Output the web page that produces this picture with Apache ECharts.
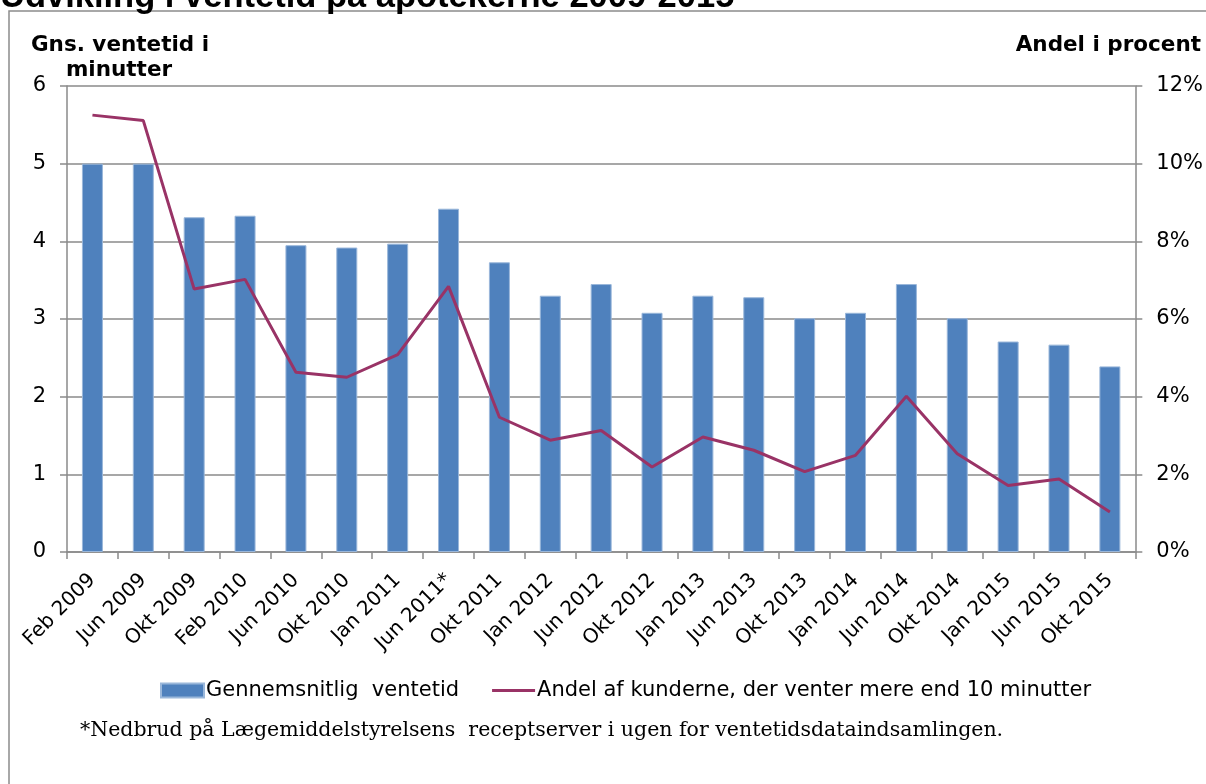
<!DOCTYPE html>
<html>
<head>
<meta charset="utf-8">
<script src="https://cdn.jsdelivr.net/npm/echarts@6/dist/echarts.min.js"></script>
<style>
html,body{margin:0;padding:0;background:#fff;}
#chart{width:1206px;height:784px;}
</style>
</head>
<body>
<div id="chart"></div>
<script>
const categories = ['Feb 2009','Jun 2009','Okt 2009','Feb 2010','Jun 2010','Okt 2010','Jan 2011','Jun 2011*','Okt 2011','Jan 2012','Jun 2012','Okt 2012','Jan 2013','Jun 2013','Okt 2013','Jan 2014','Jun 2014','Okt 2014','Jan 2015','Jun 2015','Okt 2015'];
const ventetid = [5.0,5.0,4.31,4.33,3.95,3.92,3.97,4.42,3.73,3.30,3.45,3.08,3.30,3.28,3.01,3.08,3.45,3.01,2.71,2.67,2.39];
const andelProcent = [11.25,11.11,6.77,7.02,4.63,4.50,5.08,6.84,3.47,2.88,3.13,2.19,2.96,2.62,2.07,2.49,4.01,2.53,1.71,1.88,1.03];
const leftTicks = {min:0, max:6, interval:1};
const rightTicks = {min:0, max:12, interval:2};
const titleText = 'Udvikling i ventetid på apotekerne 2009-2015';
const leftAxisName = 'Gns. ventetid i';
const leftAxisName2 = 'minutter';
const rightAxisName = 'Andel i procent';
const seriesNames = ['Gennemsnitlig  ventetid','Andel af kunderne, der venter mere end 10 minutter'];
const footnote = '*Nedbrud på Lægemiddelstyrelsens  receptserver i ugen for ventetidsdataindsamlingen.';

const chart = echarts.init(document.getElementById('chart'), null, {renderer:'canvas'});
const axisGray = '#8a8a8a';
const labelFont = 'DejaVu Sans';

chart.setOption({
  animation:false,
  backgroundColor:'#fff',
  grid:{left:67, right:70, top:86, bottom:232},
  legend:{
    left:155, top:675,
    itemWidth:43, itemHeight:14, itemGap:33,
    textStyle:{fontFamily:'DejaVu Sans', fontSize:21, color:'#000', padding:[0,0,0,-3]},
    data:[{name:seriesNames[0], icon:'rect'},{name:seriesNames[1], icon:'path://M0,0H43V3.2H0Z'}]
  },
  xAxis:{
    type:'category', data:categories,
    axisLine:{lineStyle:{color:axisGray, width:1.5}},
    axisTick:{show:true, length:7, lineStyle:{color:axisGray, width:1.5}},
    axisLabel:{rotate:45, margin:25, fontFamily:labelFont, fontSize:20, color:'#000', interval:0}
  },
  yAxis:[
    {type:'value', min:leftTicks.min, max:leftTicks.max, interval:leftTicks.interval,
     axisLine:{show:true, lineStyle:{color:axisGray, width:1.5}},
     axisTick:{show:true, length:7, lineStyle:{color:axisGray, width:1.5}},
     splitLine:{show:true, lineStyle:{color:axisGray, width:1.5}},
     axisLabel:{margin:21, fontFamily:labelFont, fontSize:21, color:'#000'}},
    {type:'value', min:rightTicks.min, max:rightTicks.max, interval:rightTicks.interval, position:'right',
     axisLine:{show:true, lineStyle:{color:axisGray, width:1.5}},
     axisTick:{show:true, length:7, lineStyle:{color:axisGray, width:1.5}},
     splitLine:{show:false},
     axisLabel:{margin:21, fontFamily:labelFont, fontSize:21, color:'#000', formatter:'{value}%'}}
  ],
  series:[
    {name:seriesNames[0], type:'bar', yAxisIndex:0, data:ventetid, barWidth:21,
     itemStyle:{color:'#4F81BD', borderColor:'#9ab7da', borderWidth:1}},
    {name:seriesNames[1], type:'line', yAxisIndex:1, data:andelProcent, symbol:'none',
     lineStyle:{color:'#993366', width:3}, itemStyle:{color:'#993366'}, z:5}
  ],
  graphic:[
    {type:'rect', shape:{x:9, y:11, width:1400, height:1000}, style:{fill:'none', stroke:'#8c8c8c', lineWidth:1.5}, silent:true, z:-1},
    {type:'text', x:0, y:15, style:{text:titleText, font:'bold 34.5px "Liberation Sans"', fill:'#000', textVerticalAlign:'bottom'}},
    {type:'text', x:120, y:45, style:{text:leftAxisName, font:'bold 21.5px "DejaVu Sans"', fill:'#000', textAlign:'center', textVerticalAlign:'middle'}},
    {type:'text', x:119, y:70, style:{text:leftAxisName2, font:'bold 21.5px "DejaVu Sans"', fill:'#000', textAlign:'center', textVerticalAlign:'middle'}},
    {type:'text', x:1201, y:45, style:{text:rightAxisName, font:'bold 21.5px "DejaVu Sans"', fill:'#000', textAlign:'right', textVerticalAlign:'middle'}},
    {type:'text', x:80, y:731, style:{text:footnote, font:'20.5px "DejaVu Serif"', fill:'#000', textVerticalAlign:'middle'}}
  ]
});
</script>
</body>
</html>
